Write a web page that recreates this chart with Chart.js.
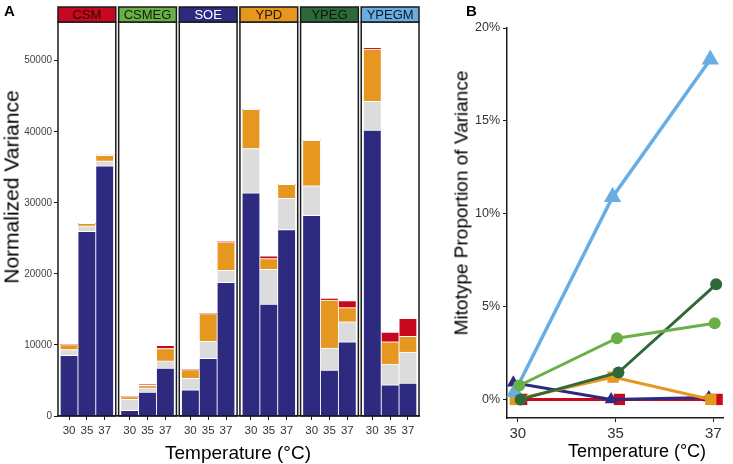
<!DOCTYPE html>
<html>
<head>
<meta charset="utf-8">
<script src="https://cdn.jsdelivr.net/npm/chart.js@4"></script>
<style>
  body { margin: 0; background: #fff; width: 733px; height: 464px; position: relative; overflow: hidden;
         font-family: "Liberation Sans", Arial, sans-serif; }
  canvas { position: absolute; top: 0; }
  .lbl { position: absolute; color: #000; white-space: nowrap; line-height: 1; }
  .rot { transform: translate(-50%, -50%) rotate(-90deg); }
  .ctr { transform: translate(-50%, -50%); }
</style>
</head>
<body>
<canvas id="chartA" width="422" height="464" style="left:0"></canvas>
<canvas id="chartB" width="287" height="464" style="left:446px"></canvas>
<div class="lbl" style="left:4px;top:3px;font-weight:bold;font-size:15px">A</div>
<div class="lbl" style="left:466px;top:3px;font-weight:bold;font-size:15px">B</div>
<div class="lbl rot" style="left:11px;top:187px;font-size:21px">Normalized Variance</div>
<div class="lbl ctr" style="left:238px;top:452px;font-size:19px">Temperature (°C)</div>
<div class="lbl rot" style="left:461px;top:203px;font-size:19px">Mitotype Proportion of Variance</div>
<div class="lbl ctr" style="left:637px;top:451px;font-size:18px">Temperature (°C)</div>
<script>
// ---- data ----
const facets = ["CSM", "CSMEG", "SOE", "YPD", "YPEG", "YPEGM"]
const temps = ["30", "35", "37"]

// stacked components per facet x temperature (bottom -> top)
const navyPart   = [8550, 26000, 35200,  800, 3350, 6750,  3700, 8100, 18800,  31400, 15750, 26250,  28250, 6450, 10450,  40250, 4400, 4650]
const grayPart   = [ 800,   750,   700, 1550,  600, 1000,  1600, 2400,  1700,   6250,  4900,  4400,   4150, 3100,  2800,   4050, 2900, 4350]
const orangePart = [ 700,   350,   800,  400,  350, 1750,  1250, 3900,  4000,   5500,  1500,  1950,   6400, 6750,  2000,   7350, 3150, 2200]
const redPart    = [   0,     0,     0,    0,  200,  450,     0,    0,     0,      0,   400,     0,      0,  300,  1000,    200, 1350, 2550]

// mitotype proportion of variance (%)
const mitoCSM   = [0.0, 0.0, 0.0]
const mitoSOE   = [0.9, 0.0, 0.1]
const mitoYPD   = [0.0, 1.2, 0.0]
const mitoYPEGM = [0.4, 10.9, 18.3]
const mitoYPEG  = [0.0, 1.45, 6.2]
const mitoCSMEG = [0.75, 3.3, 4.1]

// ---- styles ----
const FONT = '"Liberation Sans", Arial, sans-serif'
const NAVY = "#2e2a80", GRAY = "#dcdcdc", ORANGE = "#e6971f", RED = "#c8081f"
const LGREEN = "#6aaf47", DGREEN = "#2e6a39", LBLUE = "#6aade2"
const stripFill = ["#c8081f", "#6aaf47", "#2e2a80", "#e6971f", "#2e6a39", "#6aade2"]
const stripInk = ["#2a0505", "#10200a", "#ffffff", "#2a1a00", "#061a08", "#0a1a2a"]

const facetStep = 3.4
const panelPad = 0.62
const xPos = k => Math.floor(k / 3) * facetStep + (k % 3)
const barTicks = navyPart.map((v, k) => xPos(k))

const facetFrames = {
    id: "facetFrames",
    afterDatasetsDraw(chart) {
        const {ctx, chartArea, scales: {x}} = chart
        ctx.save()
        facets.forEach((name, f) => {
            const x0 = x.getPixelForValue(f * facetStep - panelPad)
            const x1 = x.getPixelForValue(f * facetStep + 2 + panelPad)
            ctx.strokeStyle = "#1a1a1a"
            ctx.lineWidth = 1.5
            ctx.strokeRect(x0, chartArea.top, x1 - x0, chartArea.bottom - chartArea.top)
            ctx.fillStyle = stripFill[f]
            ctx.fillRect(x0, 7, x1 - x0, chartArea.top - 7)
            ctx.strokeRect(x0, 7, x1 - x0, chartArea.top - 7)
            ctx.fillStyle = stripInk[f]
            ctx.font = `13px ${FONT}`
            ctx.textAlign = "center"
            ctx.textBaseline = "middle"
            ctx.fillText(name, (x0 + x1) / 2, (7 + chartArea.top) / 2 + 1)
        })
        ctx.restore()
    }
}

const stack = (data, color) => ({
    data: data.map((v, k) => ({x: xPos(k), y: v})),
    backgroundColor: color,
    borderColor: "#ffffff",
    borderWidth: {top: 1, left: 0, right: 0, bottom: 0},
    barThickness: 17
})

new Chart(document.getElementById("chartA"), {
    type: "bar",
    data: {
        datasets: [stack(navyPart, NAVY), stack(grayPart, GRAY), stack(orangePart, ORANGE), stack(redPart, RED)]
    },
    options: {
        responsive: false,
        animation: false,
        layout: {padding: {top: 22, right: 3, left: 0, bottom: 0}},
        plugins: {legend: {display: false}, tooltip: {enabled: false}},
        scales: {
            x: {
                type: "linear",
                stacked: true,
                offset: false,
                min: -panelPad,
                max: 5 * facetStep + 2 + panelPad,
                afterBuildTicks: s => { s.ticks = barTicks.map(v => ({value: v})) },
                afterFit: s => { s.height = 48 },
                ticks: {
                    autoSkip: false, maxRotation: 0, padding: 4, color: "#333",
                    font: {family: FONT, size: 11.5},
                    callback: (v, i) => temps[i % 3]
                },
                grid: {drawOnChartArea: false, drawTicks: true, tickLength: 4, color: "#1a1a1a", lineWidth: 1, offset: false},
                border: {display: true, color: "#1a1a1a", width: 1.5}
            },
            y: {
                stacked: true,
                min: 0,
                max: 55450,
                afterFit: s => { s.width = 58 },
                afterBuildTicks: s => { s.ticks = [0, 10000, 20000, 30000, 40000, 50000].map(v => ({value: v})) },
                ticks: {padding: 2, color: "#444", font: {family: FONT, size: 10}, callback: v => String(v)},
                grid: {drawOnChartArea: false, drawTicks: true, tickLength: 4, color: "#1a1a1a", lineWidth: 1},
                border: {display: false}
            }
        }
    },
    plugins: [facetFrames]
})

const series = (values, color, shape, radius, dodge, order, width) => ({
    data: values.map((v, i) => ({x: i + 1 + dodge, y: v})),
    borderColor: color,
    backgroundColor: color,
    borderWidth: width,
    pointStyle: shape,
    pointRadius: radius,
    pointBorderWidth: 0,
    pointBackgroundColor: color,
    order: order,
    clip: false
})

new Chart(document.getElementById("chartB"), {
    type: "line",
    data: {
        datasets: [
            series(mitoCSM, RED, "rect", 8, 0.04, 6, 3),
            series(mitoSOE, NAVY, "triangle", 7.5, -0.045, 5, 3),
            series(mitoYPD, ORANGE, "rect", 8, -0.025, 4, 3),
            series(mitoYPEGM, LBLUE, "triangle", 10, -0.03, 3, 3.5),
            series(mitoYPEG, DGREEN, "circle", 6, 0.03, 2, 3),
            series(mitoCSMEG, LGREEN, "circle", 6, 0.015, 1, 3)
        ]
    },
    options: {
        responsive: false,
        animation: false,
        layout: {padding: {top: 28, right: 0, left: 0, bottom: 0}},
        plugins: {legend: {display: false}, tooltip: {enabled: false}},
        scales: {
            x: {
                type: "linear",
                min: 0.89,
                max: 3.1,
                afterBuildTicks: s => { s.ticks = [1, 2, 3].map(v => ({value: v})) },
                afterFit: s => { s.height = 46 },
                ticks: {autoSkip: false, maxRotation: 0, padding: 3, color: "#333",
                        font: {family: FONT, size: 15}, callback: (v, i) => temps[i]},
                grid: {drawOnChartArea: false, drawTicks: true, tickLength: 4, color: "#1a1a1a", lineWidth: 1},
                border: {display: true, color: "#1a1a1a", width: 1.5}
            },
            y: {
                min: -1,
                max: 20,
                afterFit: s => { s.width = 61 },
                afterBuildTicks: s => { s.ticks = [0, 5, 10, 15, 20].map(v => ({value: v})) },
                ticks: {padding: 3, color: "#333", font: {family: FONT, size: 12.5}, callback: v => v + "%"},
                grid: {drawOnChartArea: false, drawTicks: true, tickLength: 4, color: "#1a1a1a", lineWidth: 1},
                border: {display: true, color: "#1a1a1a", width: 1.5}
            }
        }
    }
})
</script>
</body>
</html>
